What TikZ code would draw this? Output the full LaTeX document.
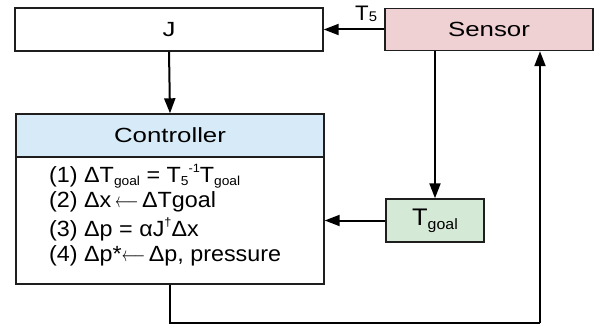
\documentclass[tikz,border=0pt]{standalone}
\usepackage{fontspec}
\setmainfont{Liberation Sans}[FakeStretch=1.06]
\newfontfamily\titlefont{Liberation Sans}[FakeStretch=1.26]
\usetikzlibrary{arrows.meta,calc}
\definecolor{sensorpink}{RGB}{239,208,211}
\definecolor{ctrlblue}{RGB}{214,235,247}
\definecolor{goalgreen}{RGB}{213,234,214}
\definecolor{edgecol}{RGB}{30,30,30}
\newcommand{\lowsm}[1]{\raisebox{-0.25ex}{\fontsize{13}{13}\selectfont #1}}
\newcommand{\highsm}[1]{\raisebox{0.85ex}{\fontsize{12}{12}\selectfont #1}}
\newcommand{\larr}{\scalebox{0.7}[1]{$\longleftarrow$}}
\tikzset{
  box/.style={draw=edgecol, line width=1.4pt, rectangle, inner sep=0pt, font=\titlefont\fontsize{20.5}{20.5}\selectfont},
  arr/.style={draw=black, line width=2pt, -{Triangle[length=15pt,width=11pt]}},
  ln/.style={draw=black, line width=2pt},
  txt/.style={anchor=west, inner sep=0pt, font=\fontsize{22}{22}\selectfont},
}
\begin{document}
\begin{tikzpicture}[x=1pt,y=-1pt]
\useasboundingbox (0,0) rectangle (600,326);
\fill[white] (0,0) rectangle (600,326);
% boxes
\node[box, minimum width=308pt, minimum height=43pt] (J) at (169,29.5) {J};
\node[box, fill=sensorpink, minimum width=208pt, minimum height=42pt] (sensor) at (489,29.5) {Sensor};
\node[box, minimum width=308pt, minimum height=170pt] (ctrl) at (170,199) {};
\node[box, fill=ctrlblue, minimum width=308pt, minimum height=43pt, anchor=north] (hdr) at (ctrl.north) {Controller};
\node[box, fill=goalgreen, minimum width=98pt, minimum height=43pt, font=\fontsize{24}{24}\selectfont] (tgoal) at (435,220.5) {T\raisebox{-0.3ex}{\fontsize{15}{15}\selectfont goal}};
% controller text
\node[txt] (l1) at (49,176) {(1) ΔT\lowsm{goal} = T\lowsm{5}\highsm{-1}T\lowsm{goal}};
\node[txt] (l2) at (49,202) {(2) Δx\,\larr\,ΔTgoal};
\node[txt] (l3) at (49,229) {(3) Δp = αJ\highsm{†}Δx};
\node[txt] (l4) at (49,256) {(4) Δp*\larr\,Δp, pressure};
% connectors
\draw[arr] (sensor.west) -- (J.east) node[pos=0.3, above=7pt, inner sep=0pt, font=\fontsize{21}{21}\selectfont] (t5) {T\raisebox{-0.1ex}{\fontsize{14}{14}\selectfont 5}};
\draw[arr] (J.south) -- (hdr.north);
\draw[arr] (tgoal.north |- sensor.south) -- (tgoal.north);
\draw[arr] (tgoal.west) -- (ctrl.east |- tgoal.west);
\coordinate (fb) at (540,323);
\draw[ln] (ctrl.south) |- (fb);
\draw[arr] (fb) -- (fb |- sensor.south);
\end{tikzpicture}
\end{document}
